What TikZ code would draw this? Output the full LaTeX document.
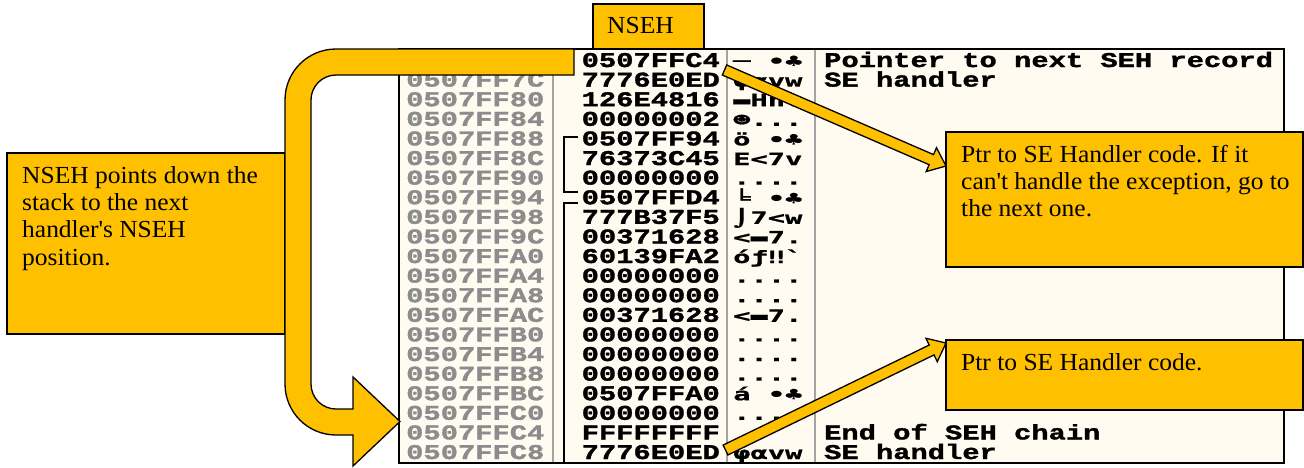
\documentclass[tikz,border=0pt]{standalone}
\usepackage{fontspec}
\usetikzlibrary{calc}
\newfontfamily\hexfont[FakeStretch=1.37,FakeBold=1.6]{Liberation Mono Bold}
\newfontfamily\symfont[FakeStretch=1.69,FakeBold=0.8]{DejaVu Sans Mono Bold}
\newfontfamily\callfont[FakeStretch=1.04]{Liberation Serif}
\definecolor{gold}{HTML}{FFC000}
\definecolor{cream}{HTML}{FFFBF0}
\definecolor{addrgray}{HTML}{8C8C8C}
\definecolor{sepgray}{HTML}{A4A4A4}
\newcommand\nuldots{....}
\newcommand\smilydots{☻...}
\begin{document}
\begin{tikzpicture}[x=1pt,y=-1pt,
  hexstyle/.style={font=\hexfont\fontsize{21}{21}\selectfont, inner sep=0pt, anchor=base west},
  symstyle/.style={font=\symfont\fontsize{17}{17}\selectfont, inner sep=0pt, anchor=base west},
  callbox/.style={draw=black, fill=gold, line width=1.3pt, inner sep=0pt, outer sep=0pt, anchor=north west, rectangle},
  calltext/.style={font=\callfont\fontsize{24.5}{27.4}\selectfont, inner sep=0pt, anchor=north west, align=left},
  goldshape/.style={draw=black, fill=gold, line width=1.3pt, line join=miter},
  sepline/.style={draw=sepgray, line width=1.5pt},
  bracket/.style={draw=black, line width=2.6pt}]
\useasboundingbox (0,0) rectangle (1304,467);
% debugger panel
\fill[cream] (399,49) rectangle (1284,463);
\draw[sepline] (553,49) -- (553,463);
\draw[sepline] (727,49) -- (727,463);
\draw[sepline] (815,49) -- (815,463);
\draw[black, line width=1.3pt] (399,49) rectangle (1284,463);
% rows
\node[hexstyle] (v0) at (581.5,67) {0507FFC4};
\node[symstyle] (s0) at (733,67) {─ •♣};
\foreach \i/\ad/\va/\as in {
 1/7C/7776E0ED/φαvw,
 2/80/126E4816/▬Hn↕,
 3/84/00000002/\smilydots,
 4/88/0507FF94/ö •♣,
 5/8C/76373C45/E<7v,
 6/90/00000000/\nuldots,
 7/94/0507FFD4/╘ •♣,
 8/98/777B37F5/⌡7<w,
 9/9C/00371628/<▬7.,
 10/A0/60139FA2/óƒ‼\textasciigrave,
 11/A4/00000000/\nuldots,
 12/A8/00000000/\nuldots,
 13/AC/00371628/<▬7.,
 14/B0/00000000/\nuldots,
 15/B4/00000000/\nuldots,
 16/B8/00000000/\nuldots,
 17/BC/0507FFA0/á •♣,
 18/C0/00000000/\nuldots,
 19/C4/FFFFFFFF/{},
 20/C8/7776E0ED/φαvw}
{
  \node[hexstyle, text=addrgray] (a\i) at (406,{67+19.6*\i}) {0507FF\ad};
  \node[hexstyle] (v\i) at (581.5,{67+19.6*\i}) {\va};
  \node[symstyle] (s\i) at (733,{67+19.6*\i}) {\as};
}
\node[hexstyle] (c0) at (824,67) {Pointer to next SEH record};
\node[hexstyle] (c1) at (824,86.6) {SE handler};
\node[hexstyle] (c19) at (824,439.4) {End of SEH chain};
\node[hexstyle] (c20) at (824,459) {SE handler};
% brackets
\draw[bracket] (578,137) -- (564,137) -- (564,192) -- (578,192);
\draw[bracket] (578,203) -- (564,203) -- (564,464);
% left callout
\node[callbox, minimum width=278pt, minimum height=181pt] (leftbox) at (7,153) {};
\node[calltext] (lefttext) at (22,163.8) {\strut NSEH points down the\\stack to the next\\handler\textquotesingle s NSEH\\position.};
% U-turn arrow
\draw[goldshape] (574,49) -- (336,49) .. controls (307.8,49) and (285,71.8) .. (285,100)
  -- (285,384) .. controls (285,412.2) and (307.8,435) .. (336,435)
  -- (353,435) -- (353,466) -- (400,421.5) -- (353,377) -- (353,409)
  -- (336,409) .. controls (322.2,409) and (311,397.8) .. (311,384)
  -- (311,100) .. controls (311,86.2) and (322.2,75) .. (336,75)
  -- (574,75) -- cycle;
% NSEH label
\node[callbox, minimum width=111pt, minimum height=45pt] (nsehbox) at (593,4) {};
\node[calltext] (nsehtext) at (607,13.8) {\strut NSEH};
% right callouts
\node[callbox, minimum width=357pt, minimum height=135pt] (box1) at (946,132) {};
\node[calltext] (text1) at (961,142.8) {\strut Ptr to SE Handler code. If it\\can\textquotesingle t handle the exception, go to\\the next one.};
\node[callbox, minimum width=357pt, minimum height=70pt] (box2) at (946,340) {};
\node[calltext] (text2) at (961,350.8) {\strut Ptr to SE Handler code.};
% block arrows
\coordinate (S1) at (724.5,70);
\coordinate (T1) at (946,166);
\coordinate (B1) at ($(T1)!16pt!(S1)$);
\draw[goldshape] ($(S1)!5.5pt!90:(T1)$) -- ($(B1)!5.5pt!90:(T1)$) -- ($(B1)!13pt!90:(T1)$) -- (T1)
  -- ($(B1)!13pt!-90:(T1)$) -- ($(B1)!5.5pt!-90:(T1)$) -- ($(S1)!5.5pt!-90:(T1)$) -- cycle;
\coordinate (S2) at (725.5,450);
\coordinate (T2) at (946,343);
\coordinate (B2) at ($(T2)!16pt!(S2)$);
\draw[goldshape] ($(S2)!5.5pt!90:(T2)$) -- ($(B2)!5.5pt!90:(T2)$) -- ($(B2)!13pt!90:(T2)$) -- (T2)
  -- ($(B2)!13pt!-90:(T2)$) -- ($(B2)!5.5pt!-90:(T2)$) -- ($(S2)!5.5pt!-90:(T2)$) -- cycle;
\end{tikzpicture}
\end{document}
